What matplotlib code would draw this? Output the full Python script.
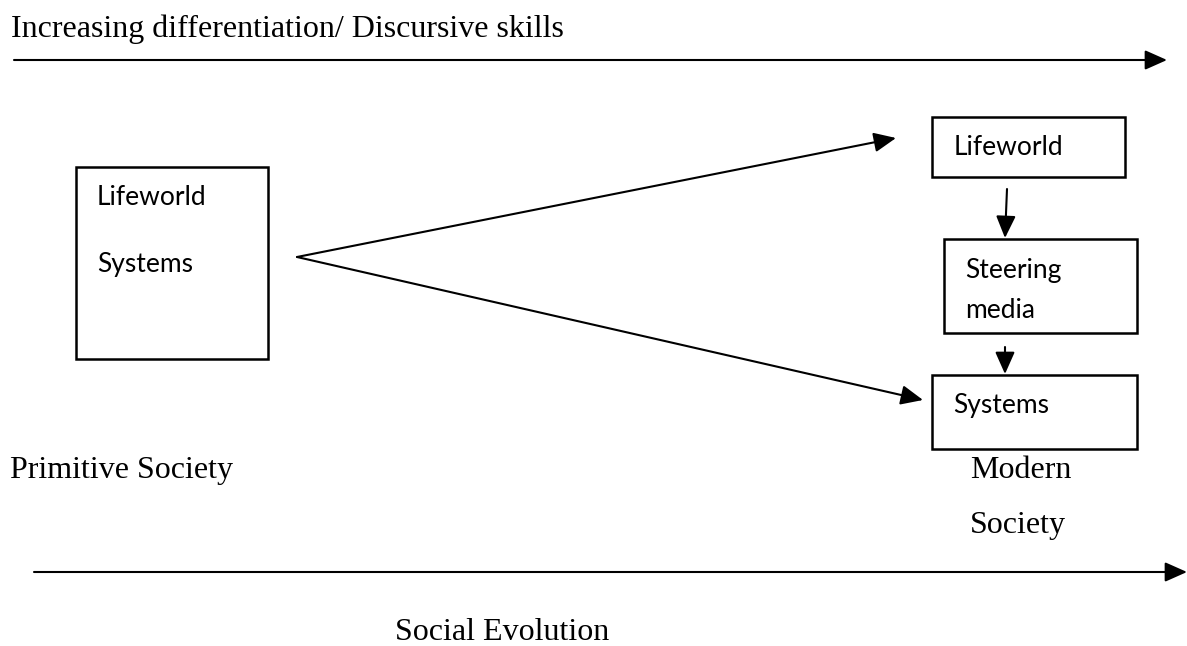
import matplotlib.pyplot as plt
from matplotlib.patches import Rectangle

# texts
title_text = "Increasing differentiation/ Discursive skills"
bottom_text = "Social Evolution"
primitive_text = "Primitive Society"
modern_lines = ["Modern", "Society"]

# boxes: (x0, y0, x1, y1) in pixel coords, then the lines inside them
boxes = [(76, 167, 268, 359), (932, 117, 1125, 177), (944, 239, 1137, 333), (932, 375, 1137, 449)]
box_texts = [
    [("Lifeworld", 97, 205), ("Systems", 97, 272)],
    [("Lifeworld", 954, 155)],
    [("Steering", 965, 278), ("media", 965, 318)],
    [("Systems", 953, 413)],
]

# arrows: start -> end
arrows = [
    ((14, 60), (1167, 60)),
    ((297, 257), (896, 138)),
    ((297, 257), (923, 400)),
    ((1007, 189), (1005, 238)),
    ((1005, 347), (1005, 374)),
    ((34, 572), (1187, 572)),
]

W, H = 1187, 646
fig = plt.figure(figsize=(W / 100, H / 100), dpi=100)
ax = fig.add_axes([0, 0, 1, 1])
ax.set_xlim(0, W)
ax.set_ylim(H, 0)
ax.axis('off')

serif = 'Liberation Serif'
sans = 'Lato'

for (x0, y0, x1, y1) in boxes:
    ax.add_patch(Rectangle((x0, y0), x1 - x0, y1 - y0, fill=False, lw=1.8, ec='black'))

for lines in box_texts:
    for (txt, x, y) in lines:
        ax.text(x, y, txt, family=sans, fontsize=19, va='baseline', ha='left')

for (p0, p1) in arrows:
    ax.annotate("", xy=p1, xytext=p0,
                arrowprops=dict(arrowstyle='-|>,head_length=0.9,head_width=0.4',
                                lw=1.5, color='black', shrinkA=0, shrinkB=0,
                                mutation_scale=15))

ax.text(11, 37, title_text, family=serif, fontsize=23, va='baseline')
ax.text(10, 478, primitive_text, family=serif, fontsize=23, va='baseline')
ax.text(970, 478, modern_lines[0], family=serif, fontsize=23, va='baseline')
ax.text(970, 533, modern_lines[1], family=serif, fontsize=23, va='baseline')
ax.text(395, 640, bottom_text, family=serif, fontsize=23, va='baseline')

fig.savefig('out.png', dpi=100)
